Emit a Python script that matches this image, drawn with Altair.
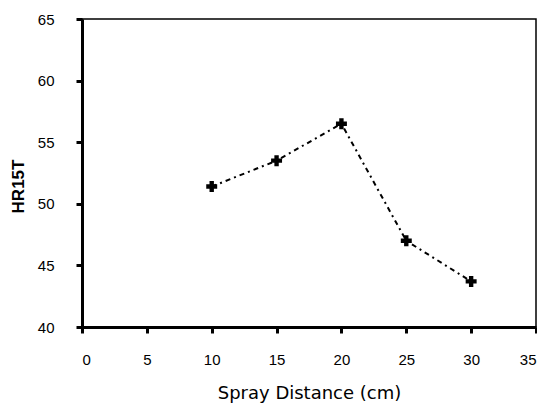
import altair as alt
import pandas as pd

distance = [10, 15, 20, 25, 30]
hr15t = [51.4, 53.5, 56.5, 47.0, 43.7]
x_ticks = [0, 5, 10, 15, 20, 25, 30, 35]
y_ticks = [40, 45, 50, 55, 60, 65]

df = pd.DataFrame({"Spray Distance (cm)": distance, "HR15T": hr15t})

x = alt.X("Spray Distance (cm):Q",
          scale=alt.Scale(domain=[0, 35], nice=False, zero=False),
          axis=alt.Axis(values=x_ticks, title="Spray Distance (cm)", grid=False,
                        domainWidth=3, domainColor="black", tickWidth=3, tickSize=6,
                        tickColor="black", labelFontSize=15, labelPadding=19,
                        titleFontSize=18, titleFontWeight="normal", titlePadding=17,
                        labelColor="black", titleColor="black", labelFont="Liberation Sans",
                        titleFont="DejaVu Sans"))
y = alt.Y("HR15T:Q",
          scale=alt.Scale(domain=[40, 65], nice=False, zero=False),
          axis=alt.Axis(values=y_ticks, title="HR15T", grid=False,
                        domainWidth=3, domainColor="black", tickWidth=3, tickSize=6,
                        tickColor="black", labelFontSize=15, labelPadding=22,
                        titleFontSize=17, titleFontWeight="bold", titlePadding=10,
                        titleY=167,
                        labelColor="black", titleColor="black", labelFont="Liberation Sans",
                        titleFont="Liberation Sans"))

line = alt.Chart(df).mark_line(color="black", strokeWidth=2,
                               strokeDash=[5, 4, 2, 4]).encode(x=x, y=y)
pts = alt.Chart(df).mark_point(shape="cross", filled=True, color="black",
                               size=120, opacity=1).encode(x=x, y=y)

chart = (line + pts).properties(
    width=454, height=308,
    autosize=alt.AutoSizeParams(type="none"),
    padding={"left": 74, "top": 11, "right": 1, "bottom": 80},
).configure_view(stroke="black", strokeWidth=1.5)

chart.save("out.html", embed_options={"renderer": "svg", "actions": False})
